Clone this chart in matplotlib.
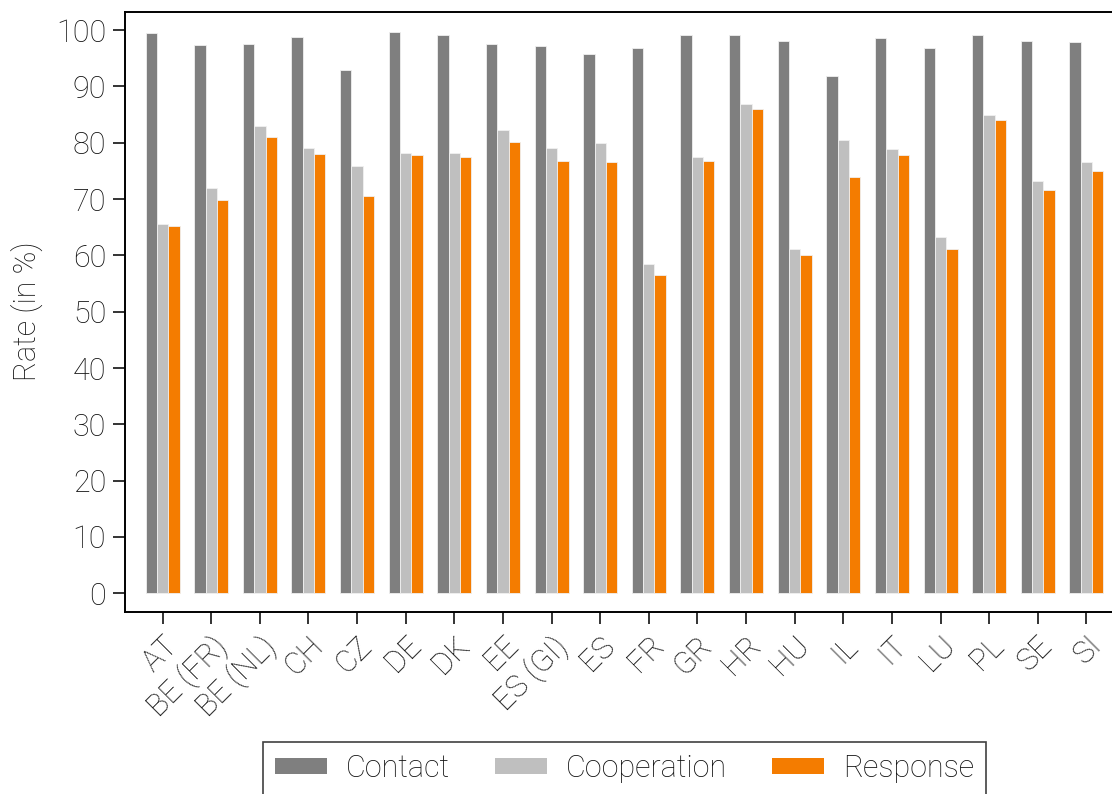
import matplotlib
matplotlib.use('Agg')
import matplotlib.pyplot as plt
import numpy as np

plt.rcParams.update({
    'font.family': ['Roboto', 'DejaVu Sans'],
    'font.weight': 'light',
    'axes.labelweight': 'light',
    'font.size': 22,
    'axes.linewidth': 1.4,
    'text.color': '#111111',
    'axes.labelcolor': '#111111',
    'xtick.color': '#111111',
    'ytick.color': '#111111',
})

countries = ['AT', 'BE (FR)', 'BE (NL)', 'CH', 'CZ', 'DE', 'DK', 'EE', 'ES (GI)', 'ES',
             'FR', 'GR', 'HR', 'HU', 'IL', 'IT', 'LU', 'PL', 'SE', 'SI']
contact = [99.5, 97.3, 97.6, 98.8, 92.9, 99.6, 99.2, 97.5, 97.2, 95.8,
           96.9, 99.1, 99.1, 98.0, 91.8, 98.6, 96.8, 99.1, 98.0, 97.9]
cooperation = [65.6, 71.9, 83.0, 79.1, 75.9, 78.2, 78.2, 82.3, 79.0, 80.0,
               58.4, 77.5, 86.9, 61.2, 80.5, 78.9, 63.3, 84.9, 73.2, 76.6]
response = [65.3, 69.9, 81.0, 78.0, 70.6, 77.9, 77.5, 80.1, 76.7, 76.5,
            56.6, 76.8, 86.0, 60.0, 73.9, 77.8, 61.2, 84.0, 71.6, 75.0]

series = [('Contact', contact, '#7f7f7f'),
          ('Cooperation', cooperation, '#bfbfbf'),
          ('Response', response, '#f47c00')]

fig = plt.figure(figsize=(11.12, 7.94), dpi=100)
# axes run slightly past the right edge of the canvas
ax = fig.add_axes([0.1124, 0.2296, 0.8984, 0.7559])

x = np.arange(len(countries))
width = 0.233
for i, (name, vals, col) in enumerate(series):
    ax.bar(x + (i - 1) * width, vals, width, color=col, edgecolor='#f0f0f0',
           linewidth=0.6, label=name)

ax.set_xlim(-0.774, len(countries) - 1 + 0.774)
ax.set_ylim(-3.27, 103.3)
ax.set_yticks(np.arange(0, 101, 10))
ax.set_xticks(x)
ax.set_xticklabels(countries, rotation=45, ha='right', va='top', rotation_mode='anchor')
ax.tick_params(axis='both', length=8.5, width=1.2, labelsize=22, pad=5)
ax.set_ylabel('Rate (in %)', fontsize=22, labelpad=9)
ax.spines['right'].set_visible(False)

leg = fig.legend(loc='upper center', bbox_to_anchor=(0.5616, 0.0659), ncol=3,
                 frameon=True, fancybox=False, edgecolor='#111111', fontsize=22,
                 handlelength=1.7, handleheight=0.4, handletextpad=0.62,
                 columnspacing=1.47, borderpad=0.4, borderaxespad=0)
leg.get_frame().set_linewidth(1.2)
for h in leg.legend_handles:
    h.set_edgecolor('none')

fig.savefig('out.png', dpi=100)
